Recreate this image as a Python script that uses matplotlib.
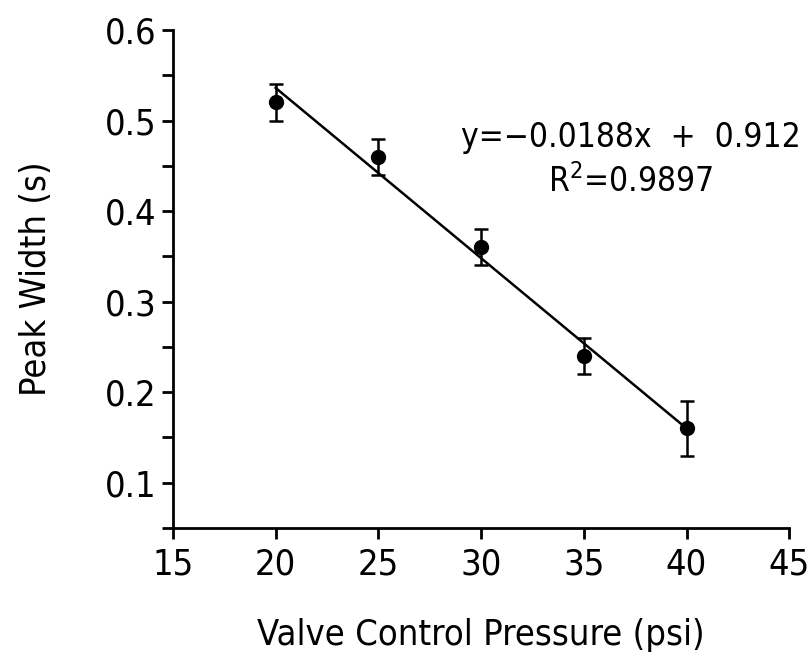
import numpy as np
import matplotlib
matplotlib.use("Agg")
import matplotlib.pyplot as plt
from matplotlib.ticker import MultipleLocator

plt.rcParams['font.family'] = ['DejaVu Sans']
plt.rcParams['font.stretch'] = 'condensed'
plt.rcParams['mathtext.fontset'] = 'custom'
plt.rcParams['mathtext.rm'] = 'DejaVu Sans:stretch=condensed'

# valve control pressure (psi) vs peak width (s)
pressure = [20, 25, 30, 35, 40]
peakWidth = [0.52, 0.46, 0.36, 0.24, 0.16]
peakErr = [0.02, 0.02, 0.02, 0.02, 0.03]

# linear fit reported on the plot
slope = -0.0188
intercept = 0.912
rSquared = 0.9897

fig = plt.figure(figsize=(8.12, 6.63), dpi=100)
ax = fig.add_axes([0.213, 0.2036, 0.759, 0.7512])

fitX = np.array([pressure[0], pressure[-1]])
ax.plot(fitX, slope * fitX + intercept, color='black', linewidth=1.8, zorder=2)
ax.errorbar(pressure, peakWidth, yerr=peakErr, fmt='o', color='black',
            markersize=10, elinewidth=1.8, capsize=5, capthick=1.8, zorder=3)

ax.text(37.3, 0.481, f'y=\u2212{abs(slope)}x  +  {intercept}', fontsize=24, ha='center', va='center')
ax.text(37.3, 0.432, r'R$^2$=' + f'{rSquared:.4f}', fontsize=24, ha='center', va='center')

ax.set_xlim(15, 45)
ax.set_ylim(0.05, 0.6)
ax.xaxis.set_major_locator(MultipleLocator(5))
ax.yaxis.set_minor_locator(MultipleLocator(0.05))
ax.set_yticks([0.1, 0.2, 0.3, 0.4, 0.5, 0.6])

for side in ['top', 'right']:
    ax.spines[side].set_visible(False)
for side in ['left', 'bottom']:
    ax.spines[side].set_linewidth(2)

ax.tick_params(axis='both', which='both', direction='out', length=8, width=2, labelsize=26)
ax.tick_params(axis='x', pad=6)
ax.tick_params(axis='y', pad=4)

ax.set_xlabel('Valve Control Pressure (psi)', fontsize=26, labelpad=26)
ax.set_ylabel('Peak Width (s)', fontsize=26, labelpad=37)

fig.savefig('out.png', dpi=100)
